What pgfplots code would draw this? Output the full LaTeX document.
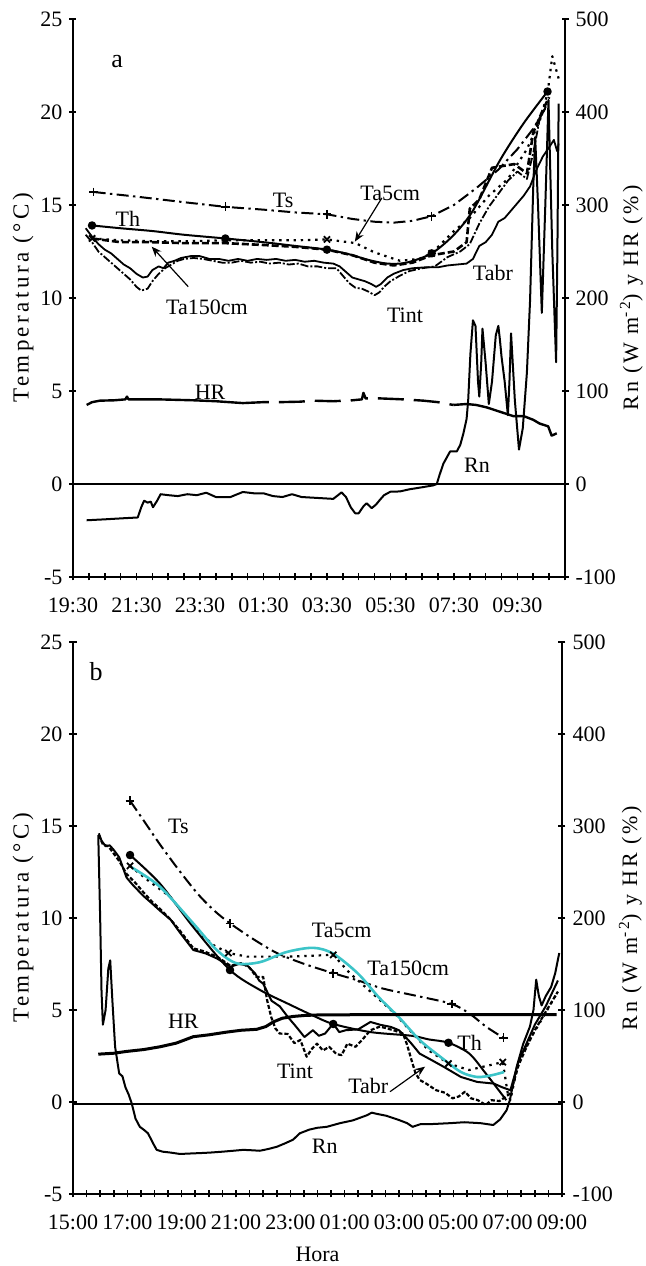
\documentclass[border=0pt]{standalone}
\usepackage{fontspec}
\setmainfont{Liberation Serif}
\usepackage{pgfplots}
\pgfplotsset{compat=1.18}
\usetikzlibrary{arrows.meta}
\newcommand\lf{\fontsize{11}{13}\selectfont}
\newfontfamily\spacedL[LetterSpace=15]{Liberation Serif}
\newfontfamily\spacedR[LetterSpace=13]{Liberation Serif}
\tikzset{
  lab/.style={font=\lf},
  arr/.style={-{Stealth[length=5pt,width=4pt]}, line width=0.6pt},
}
\pgfplotsset{
  panel/.style={scale only axis, anchor=south west,
    /pgf/number format/assume math mode=true,
    tick label style={font=\lf},
    tick align=outside, major tick length=3.5pt, minor tick length=3.5pt,
    every tick/.style={black, line width=0.8pt},
    line join=round},
  tleft/.style={ymin=-5, ymax=25, ytick={-5,0,...,25},
    axis x line=bottom, axis y line=left,
    axis line style={-, line width=0.9pt},
    xticklabel style={yshift=-5pt},
    ylabel={\spacedL\fontsize{11.5}{14}\selectfont Temperatura (°C)}},
  tright/.style={ymin=-100, ymax=500, ytick={-100,0,...,500},
    axis x line=none, axis y line=right,
    axis line style={-, line width=0.9pt},
    ylabel={\spacedR\fontsize{11}{13}\selectfont Rn (W m\textsuperscript{-2}) y HR (\%)}},
  sTs/.style={black, line width=1pt, dash pattern=on 6pt off 2.2pt on 1.2pt off 2.2pt, mark=+, mark size=2.2pt, mark options={solid, line width=0.8pt}},
  sTh/.style={black, line width=1pt, mark=*, mark size=1.6pt, mark options={solid}},
  sT5/.style={black, line width=1.1pt, dash pattern=on 1.2pt off 2.4pt, mark=x, mark size=2.2pt, mark options={solid, line width=0.9pt}},
  sT150/.style={black, line width=1.3pt, dash pattern=on 3.5pt off 1.5pt},
  sTint/.style={black, line width=0.9pt, dash pattern=on 4pt off 1pt on 1pt off 1pt},
  sTabr/.style={black, line width=0.9pt},
}
\begin{document}
\begin{tikzpicture}
\useasboundingbox (0pt,0pt) rectangle (322.5pt,633pt);

% ---------------- panel a ----------------
\begin{axis}[panel, tleft, at={(36.5pt,344.5pt)}, width=246pt, height=279pt,
  xmin=19.5, xmax=35,
  xtick={19.5,21.5,...,33.5},
  xticklabels={19:30,21:30,23:30,01:30,03:30,05:30,07:30,09:30},
  minor xtick={20,20.5,...,35},
  ylabel style={at={(axis description cs:-0.1016,0.5)}, anchor=center}]
\draw[line width=0.8pt] (axis cs:19.5,0) -- (axis cs:35,0);
% Ts
\addplot[sTs, mark indices={1,4,7,12}] table {
20.15 15.7
21.5 15.45
23.0 15.15
24.3 14.9
25.5 14.75
26.5 14.6
27.5 14.5
28.3 14.25
29.0 14.1
29.6 14.05
30.2 14.15
30.8 14.4
31.5 15.0
32.2 15.9
32.9 16.9
33.5 18.0
34.0 19.1
34.45 20.4
};
% Th
\addplot[sTh, smooth, mark indices={1,5,8,13,18}] table {
20.1 13.9
21.0 13.75
22.0 13.6
23.0 13.4
24.3 13.2
25.5 13.0
26.5 12.8
27.5 12.6
28.2 12.35
28.8 12.05
29.4 11.85
30.0 11.9
30.8 12.4
31.5 13.4
32.1 14.7
32.95 17.4
33.7 19.4
34.45 21.1
};
% Ta5cm
\addplot[sT5, mark indices={1,5,8,13}] table {
20.1 13.2
21.0 13.1
22.0 13.05
23.0 13.05
24.3 13.1
25.5 13.1
26.5 13.1
27.5 13.15
28.4 12.95
29.0 12.45
29.8 12.0
30.4 12.1
30.8 12.4
31.5 13.6
32.0 14.3
32.6 15.5
33.2 16.4
33.8 18.0
34.2 19.5
34.45 21.0
34.6 23.0
34.8 21.8
};
% Ta150cm
\addplot[sT150] table {
20.1 13.2
21.0 13.0
22.0 13.0
23.0 12.95
24.3 12.95
25.5 12.85
26.5 12.75
27.5 12.6
28.3 12.3
29.0 11.9
29.6 11.75
30.2 11.9
30.8 12.3
31.5 12.5
31.9 13.0
32.0 14.8
32.3 15.3
32.7 17.0
33.4 17.2
33.8 16.7
34.0 18.9
34.3 20.1
34.5 20.8
};
% Tabr
\addplot[sTabr] table {
19.9 13.75
20.1 13.3
20.3 12.9
20.5 12.6
20.7 12.4
20.9 12.1
21.1 11.8
21.3 11.6
21.5 11.3
21.7 11.1
21.85 11.15
22.0 11.5
22.2 11.7
22.35 11.6
22.5 11.9
22.7 12.0
22.9 12.15
23.2 12.25
23.5 12.25
23.8 12.1
24.1 12.1
24.4 12.0
24.7 12.1
25.0 12.0
25.3 12.1
25.6 12.05
25.9 12.1
26.2 12.0
26.5 12.05
26.8 11.95
27.1 12.0
27.4 11.9
27.7 11.85
27.9 11.7
28.1 11.4
28.3 11.1
28.5 11.0
28.7 10.9
28.9 10.75
29.05 10.6
29.2 10.75
29.4 11.1
29.6 11.3
29.9 11.5
30.2 11.6
30.6 11.65
31.0 11.65
31.3 11.75
31.6 11.8
31.9 11.85
32.1 12.1
32.3 12.8
32.5 13.0
32.7 13.4
32.9 14.1
33.1 14.3
33.3 14.7
33.5 15.1
33.7 15.5
33.9 16.0
34.1 16.9
34.3 17.6
34.5 18.1
34.65 18.5
34.75 17.9
34.8 18.3
};
% Tint
\addplot[sTint] table {
19.9 13.4
20.1 13.0
20.3 12.5
20.5 12.2
20.7 11.9
20.9 11.6
21.1 11.3
21.3 11.0
21.5 10.6
21.65 10.4
21.85 10.5
22.0 10.9
22.2 11.3
22.4 11.6
22.6 11.8
22.8 12.0
23.0 12.1
23.3 12.15
23.6 12.1
23.9 12.0
24.2 11.9
24.5 11.9
24.8 12.0
25.1 11.9
25.4 11.95
25.7 11.85
26.0 11.9
26.3 11.8
26.6 11.85
26.9 11.7
27.2 11.7
27.5 11.6
27.8 11.6
28.0 11.2
28.2 10.8
28.4 10.55
28.6 10.5
28.8 10.35
29.0 10.15
29.15 10.3
29.3 10.6
29.5 10.9
29.8 11.2
30.1 11.45
30.5 11.6
30.9 11.7
31.3 12.2
31.7 12.5
32.0 12.9
32.3 14.0
32.6 14.9
32.9 15.6
33.2 16.3
33.5 16.8
33.8 16.4
34.0 17.8
34.2 19.6
34.4 20.3
};
\node[font=\fontsize{13}{15}\selectfont] at (axis cs:20.89,22.69) {a};
\node[lab] at (axis cs:26.12,15.27) {Ts};
\node[lab] at (axis cs:21.23,14.25) {Th};
\node[lab] at (axis cs:29.49,15.65) {Ta5cm};
\node[lab] at (axis cs:23.72,9.52) {Ta150cm};
\node[lab] at (axis cs:32.73,11.34) {Tabr};
\node[lab] at (axis cs:29.96,9.09) {Tint};
\node[lab] at (axis cs:23.82,4.95) {HR};
\node[lab] at (axis cs:32.23,1.02) {Rn};
\draw[arr] (axis cs:29.23,15.38) -- (axis cs:28.38,13.03);
\draw[arr] (axis cs:23.13,10.61) -- (axis cs:21.98,12.76);
\end{axis}

\begin{axis}[panel, tright, at={(36.5pt,344.5pt)}, width=246pt, height=279pt,
  xmin=19.5, xmax=35,
  ylabel style={at={(axis description cs:1.135,0.5)}, anchor=center}]
% HR
\addplot[black, line width=1.2pt] table {
19.93 85
20.1 88
20.35 89.6
20.8 90
21.15 91
21.2 94
21.25 91
22.2 91
23.3 90
24.0 89
24.85 87
};
\addplot[black, line width=1.2pt, dash pattern=on 13pt off 5pt] table {
24.85 87
25.5 88
26.0 88
26.65 88.5
27.06 89.6
27.7 89
28.3 90
28.6 91
28.65 98
28.72 92
29.2 92
29.9 91
30.54 89.6
31.0 88
31.48 85
};
\addplot[black, line width=1.2pt] table {
31.48 85
31.9 86
32.2 85
32.53 82.4
32.95 77.7
33.37 73
33.7 73
34.0 69
34.2 65
34.47 62
34.58 52
34.74 54.5
};
% Rn
\addplot[black, line width=1pt] table {
19.93 -39
20.5 -38
21.0 -37
21.54 -36
21.65 -25
21.74 -18
21.85 -20
21.95 -19
22.02 -25
22.15 -18
22.26 -11
22.5 -12
22.8 -13
23.1 -11
23.4 -12
23.7 -9.4
24.0 -14
24.46 -14
24.85 -8.6
25.2 -10
25.5 -10
25.8 -13
26.1 -14
26.4 -11
26.7 -14
27.2 -15
27.7 -16
27.85 -12
27.96 -9
28.1 -14
28.25 -25
28.39 -31.5
28.5 -31.5
28.65 -24
28.75 -20.7
28.91 -26
29.05 -22
29.17 -17
29.3 -12
29.5 -8.3
29.8 -8
30.1 -5.7
30.5 -3.5
30.85 -1.5
30.96 0
31.05 10
31.17 22
31.3 30
31.38 35
31.59 35
31.7 42
31.8 54.5
31.9 70
31.95 90
32.02 140
32.1 176
32.18 170
32.26 110
32.3 94
32.36 130
32.4 167
32.5 130
32.6 86
32.7 110
32.82 160
32.9 170
32.95 155
33.0 137
33.1 110
33.2 74
33.25 110
33.3 162
33.42 90
33.55 37
33.67 60
33.8 120
33.9 198
34.0 320
34.06 373
34.15 300
34.27 184
34.38 300
34.48 413
34.6 250
34.72 131
34.76 250
34.8 409
};
\end{axis}

% ---------------- panel b ----------------
\begin{axis}[panel, tleft, at={(36.5pt,36pt)}, width=244.5pt, height=276pt,
  xmin=15, xmax=33,
  xtick={15,17,...,33},
  xticklabels={15:00,17:00,19:00,21:00,23:00,01:00,03:00,05:00,07:00,09:00},
  minor xtick={15.5,16,...,33},
  xlabel={Hora},
  xlabel style={font=\lf, at={(axis description cs:0.5,-0.1087)}, anchor=center},
  ylabel style={at={(axis description cs:-0.1022,0.5)}, anchor=center}]
\draw[line width=0.8pt] (axis cs:15,-0.1) -- (axis cs:33,-0.1);
% Ts
\addplot[sTs, smooth, mark indices={1,7,11,15,18}] table {
17.1 16.37
17.6 15.3
18.2 14.0
18.9 12.6
19.6 11.3
20.2 10.4
20.78 9.71
21.64 8.85
22.5 8.1
23.48 7.52
24.58 7.0
25.5 6.6
26.42 6.16
27.7 5.75
28.94 5.33
29.6 4.8
30.2 4.1
30.84 3.49
};
% Ta5cm
\addplot[sT5, mark indices={1,7,12,18,21}] table {
17.1 12.83
17.8 12.0
18.57 11.16
19.1 10.2
19.67 9.17
20.2 8.5
20.72 8.1
21.4 7.9
22.2 7.9
22.9 7.9
23.8 7.95
24.58 8.0
25.19 7.0
25.95 6.0
26.85 4.8
27.46 3.8
28.07 2.83
28.82 2.09
29.58 1.74
30.34 2.0
30.82 2.17
31.0 0.5
31.1 0.1
31.3 1.5
31.5 2.6
31.9 3.6
32.3 4.6
32.85 6.0
};
% Th
\addplot[sTh, smooth, mark indices={1,4,8,12}] table {
17.1 13.42
18.2 11.87
19.43 9.5
20.78 7.17
21.88 6.09
22.9 5.35
23.83 4.7
24.58 4.24
25.95 3.8
27.46 3.6
28.1 3.4
28.82 3.22
29.58 2.64
30.19 1.56
30.95 0.1
};
% Tabr
\addplot[sTabr, line width=1pt] table {
15.95 14.6
16.05 14.2
16.2 13.9
16.35 13.95
16.5 13.7
16.7 13.3
16.97 12.2
17.2 11.8
17.59 11.2
17.9 10.8
18.2 10.4
18.6 9.9
18.94 9.2
19.2 8.7
19.43 8.26
19.7 8.15
19.89 8.07
20.3 7.8
20.8 7.35
21.1 7.5
21.4 7.44
21.7 7.0
21.85 6.6
22.0 6.43
22.31 5.5
22.61 5.2
22.91 4.62
23.22 4.08
23.52 3.53
23.83 3.9
24.05 3.6
24.28 3.72
24.58 4.26
24.8 3.8
25.04 3.9
25.5 3.95
25.95 4.35
26.3 4.2
26.7 4.08
27.0 3.9
27.2 3.6
27.46 3.17
27.76 2.63
28.21 2.27
28.66 1.9
29.28 1.36
29.88 1.09
30.49 1.0
30.8 0.8
31.1 0.64
31.4 2.2
31.7 3.2
32.0 4.2
32.4 5.2
32.85 6.6
};
% Tint
\addplot[black, line width=1.1pt, dash pattern=on 2pt off 1pt] table {
15.95 14.5
16.1 14.0
16.3 13.9
16.5 13.5
16.7 13.1
16.97 12.4
17.3 11.9
17.59 11.4
17.9 10.9
18.2 10.5
18.6 9.9
18.94 9.3
19.2 8.8
19.43 8.35
19.8 8.2
20.3 7.9
20.8 7.4
21.2 7.55
21.5 7.3
21.75 6.8
22.0 6.8
22.15 5.5
22.3 4.6
22.45 4.0
22.61 3.72
22.9 3.7
23.15 3.2
23.37 3.37
23.6 2.46
23.8 2.9
23.98 3.17
24.2 2.8
24.43 3.0
24.7 2.6
24.89 2.55
25.1 3.17
25.4 3.0
25.64 3.37
25.95 3.9
26.3 4.1
26.8 3.9
27.15 3.72
27.3 3.1
27.46 2.28
27.6 1.6
27.76 1.2
28.0 1.0
28.37 0.64
28.7 0.5
28.97 0.2
29.2 0.3
29.43 0.56
29.65 0.2
29.9 0.1
30.19 -0.16
30.4 0.1
30.7 0.05
31.1 0.47
31.4 2.0
31.7 3.0
32.0 3.9
32.4 4.9
32.85 6.0
};
% smoothed Ta5cm (cyan)
\addplot[color={rgb,255:red,60;green,196;blue,200}, line width=1.3pt, smooth] table {
17.16 12.75
18.2 11.7
19.43 9.7
20.29 8.26
21.02 7.54
21.88 7.6
22.86 8.15
23.84 8.38
24.58 8.06
25.49 6.98
26.25 5.7
27.0 4.6
27.76 3.37
28.52 2.46
29.28 1.63
29.88 1.36
30.4 1.45
30.87 1.63
};
\node[font=\fontsize{13}{15}\selectfont] at (axis cs:15.85,23.37) {b};
\node[lab] at (axis cs:18.88,14.96) {Ts};
\node[lab] at (axis cs:24.89,9.35) {Ta5cm};
\node[lab] at (axis cs:27.34,7.27) {Ta150cm};
\node[lab] at (axis cs:19.06,4.36) {HR};
\node[lab] at (axis cs:23.17,1.65) {Tint};
\node[lab] at (axis cs:25.87,0.87) {Tabr};
\node[lab] at (axis cs:29.6,3.22) {Th};
\node[lab] at (axis cs:24.27,-2.43) {Rn};
\draw[arr] (axis cs:26.67,0.56) -- (axis cs:27.96,1.92);
\end{axis}

\begin{axis}[panel, tright, at={(36.5pt,36pt)}, width=244.5pt, height=276pt,
  xmin=15, xmax=33,
  ylabel style={at={(axis description cs:1.14,0.5)}, anchor=center}]
% HR
\addplot[black, line width=1.5pt] table {
15.93 52
16.5 53
16.98 55
17.6 57
18.2 60
18.8 64
19.43 71
20.0 73
20.66 76
21.2 78
21.76 79
22.1 82
22.37 87
22.7 91
23.1 93
23.5 94
24.0 94.6
26.0 95
28.0 95
30.0 95
32.8 95
};
% Rn
\addplot[black, line width=1pt] table {
15.93 290
16.0 200
16.05 120
16.1 84
16.2 100
16.3 145
16.37 154
16.45 110
16.55 60
16.7 31
16.82 28
16.93 16
17.05 8
17.16 -1.4
17.3 -18
17.46 -27
17.6 -30
17.76 -34
17.95 -45
18.08 -52
18.3 -54
18.6 -55
18.94 -56.5
19.3 -56
19.7 -55.5
20.04 -55
20.5 -54
20.9 -53
21.27 -52
21.6 -52.5
21.88 -53
22.2 -51
22.5 -48.7
22.8 -45
23.1 -41
23.35 -34
23.7 -30
24.0 -28
24.34 -27
24.83 -23
25.3 -20
25.81 -14.5
26.0 -11.6
26.2 -13
26.54 -15
27.0 -19.6
27.3 -23
27.5 -27
27.8 -24
28.2 -24
28.88 -23
29.4 -22
30.0 -23
30.47 -25
30.72 -19
30.96 -9
31.08 2
31.33 38
31.57 63
31.82 82
31.95 100
32.05 133
32.15 115
32.25 105
32.4 115
32.6 125
32.75 140
32.9 162
};
\end{axis}
\end{tikzpicture}
\end{document}
